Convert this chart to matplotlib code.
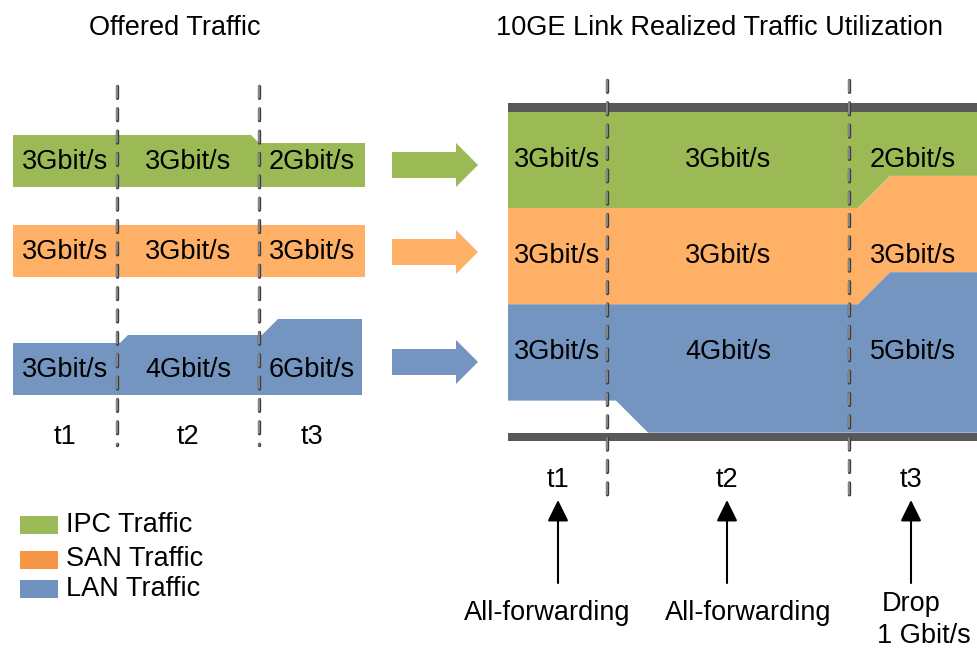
import matplotlib.pyplot as plt
from matplotlib.patches import Polygon, Rectangle

plt.rcParams['font.family'] = ['Liberation Sans', 'DejaVu Sans']
plt.rcParams['lines.scale_dashes'] = False

# traffic per period, Gbit/s
periods = ["t1", "t2", "t3"]
classes = ["IPC Traffic", "SAN Traffic", "LAN Traffic"]
offered_ipc = [3, 3, 2]
offered_san = [3, 3, 3]
offered_lan = [3, 4, 6]
realized_ipc = [3, 3, 2]
realized_san = [3, 3, 3]
realized_lan = [3, 4, 5]
link_capacity = 10
notes = ["All-forwarding", "All-forwarding", "Drop\n1 Gbit/s"]

band_colors = ["#9BB955", "#FDB066", "#7395C0"]
legend_colors = ["#9BBB59", "#F79646", "#7092BE"]
FS = 19.5

fig = plt.figure(figsize=(9.77, 6.48), dpi=100)
ax = fig.add_axes([0, 0, 1, 1])
ax.set_xlim(0, 977)
ax.set_ylim(648, 0)
ax.axis("off")


def edge(xs, levels, x_end, shift):
    # outline of a stepped edge with 45 degree transitions
    pts = [(xs[0], levels[0])]
    for i in range(1, len(levels)):
        dy = levels[i] - levels[i - 1]
        if dy != 0:
            x0 = shift(xs[i], dy)
            pts += [(x0, levels[i - 1]), (x0 + abs(dy), levels[i])]
    pts.append((x_end, levels[-1]))
    return pts


def dashed(x, y0, y1):
    ax.plot([x, x], [y0, y1], color="#3c3c3c", lw=2.4, dashes=(8.5, 7.6),
            solid_capstyle="round", dash_capstyle="round", zorder=5)
    ax.plot([x, x], [y0, y1], color="#9a9a9a", lw=1.1, dashes=(8.5, 7.6),
            solid_capstyle="round", dash_capstyle="round", zorder=6)


# ---- offered traffic (left) ----
left_x = [13, 117, 259]
left_end = [365, 365, 362]
left_bottom = [187, 277, 395]
offered = [offered_ipc, offered_san, offered_lan]


def band_h(r):
    return 28 + 8 * r


def left_shift(xb, dy):
    return xb - abs(dy) if dy > 0 else xb + 3


for k, rates in enumerate(offered):
    tops = [left_bottom[k] - band_h(r) for r in rates]
    top = edge(left_x, tops, left_end[k], left_shift)
    bot = [(left_end[k], left_bottom[k]), (left_x[0], left_bottom[k])]
    ax.add_patch(Polygon(top + bot, closed=True, color=band_colors[k], lw=0))
    for i, r in enumerate(rates):
        xe = left_x[i + 1] if i + 1 < len(left_x) else 365
        ax.text((left_x[i] + xe) / 2, left_bottom[k] - 25, f"{r}Gbit/s",
                fontsize=FS, ha="center", va="center", zorder=7)

left_mid = [65, 188, 312]
for i, p in enumerate(periods):
    ax.text(left_mid[i], 437, p, fontsize=FS, ha="center", va="center")
for xb in left_x[1:]:
    dashed(xb, 86, 445)

ax.text(175, 28, "Offered Traffic", fontsize=FS, ha="center", va="center")

# ---- block arrows ----
for k, yc in enumerate([165, 252, 362]):
    ax.add_patch(Polygon([(392, yc - 13), (456, yc - 13), (456, yc - 22),
                          (478, yc), (456, yc + 22), (456, yc + 13),
                          (392, yc + 13)], closed=True, color=band_colors[k], lw=0))

# ---- realized traffic (right) ----
right_x = [508, 607, 849]
right_end = 977
link_top = 111.7
scale = 32.1
realized = [realized_ipc, realized_san, realized_lan]


def right_shift(xb, dy):
    return xb + 9


levels = [[link_top] * 3]
for rates in realized:
    levels.append([levels[-1][i] + scale * r for i, r in enumerate(rates)])

for k in range(3):
    top = edge(right_x, levels[k], right_end, right_shift)
    bot = edge(right_x, levels[k + 1], right_end, right_shift)
    ax.add_patch(Polygon(top + bot[::-1], closed=True, color=band_colors[k], lw=0))
    yc = (levels[k][0] + levels[k + 1][0]) / 2
    for i, r in enumerate(realized[k]):
        xe = right_x[i + 1] if i + 1 < len(right_x) else right_end
        ax.text((right_x[i] + xe) / 2, yc, f"{r}Gbit/s", fontsize=FS,
                ha="center", va="center", zorder=7)

link_bottom = link_top + scale * link_capacity
ax.add_patch(Rectangle((508, link_top - 8.4), 469, 8.4, color="#595959", lw=0, zorder=4))
ax.add_patch(Rectangle((508, link_bottom), 469, 8.4, color="#595959", lw=0, zorder=4))

for xb in right_x[1:]:
    dashed(xb, 80, 496)

right_mid = [558, 727, 911]
note_dx = [-11, 21, 0]
for i, p in enumerate(periods):
    ax.text(right_mid[i], 480, p, fontsize=FS, ha="center", va="center")
    ax.annotate("", xy=(right_mid[i], 500), xytext=(right_mid[i], 583),
                arrowprops=dict(arrowstyle="-|>,head_length=0.65,head_width=0.32",
                                color="black", lw=1.5, mutation_scale=20,
                                shrinkA=0, shrinkB=0))
    lines = notes[i].split("\n")
    for j, line in enumerate(lines):
        y = 613 if len(lines) == 1 else 604 + 32 * j
        ax.text(right_mid[i] + note_dx[i] + 13 * j, y, line, fontsize=FS,
                ha="center", va="center")

ax.text(720, 28, "10GE Link Realized Traffic Utilization", fontsize=FS,
        ha="center", va="center")

# ---- legend ----
for k, (name, yc) in enumerate(zip(classes, [525, 559.5, 589])):
    ax.add_patch(Rectangle((20, yc - 9), 38, 18, color=legend_colors[k], lw=0))
    ax.text(66, yc, name, fontsize=FS, ha="left", va="center")

fig.savefig("out.png", dpi=100)
